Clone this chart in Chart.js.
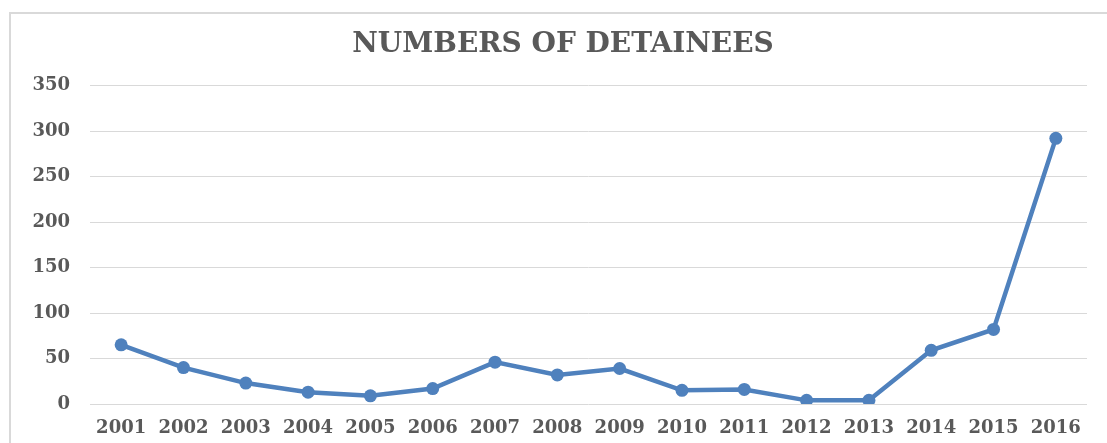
<!DOCTYPE html>
<html>
<head>
<meta charset="utf-8">
<script src="https://cdn.jsdelivr.net/npm/chart.js@4"></script>
<style>
  html, body { margin: 0; padding: 0; background: #fff; overflow: hidden; }
  #wrap { position: relative; width: 1107px; height: 443px; }
  #frame { position: absolute; left: 9px; top: 12px; width: 1200px; height: 600px; border: 2px solid #d9d9d9; box-sizing: border-box; }
  canvas { position: absolute; left: 0; top: 0; }
</style>
</head>
<body>
<div id="wrap">
  <div id="frame"></div>
  <canvas id="c" width="1107" height="443"></canvas>
</div>
<script>
const years = ['2001','2002','2003','2004','2005','2006','2007','2008','2009','2010','2011','2012','2013','2014','2015','2016'];
const detainees = [65, 40, 23, 13, 9, 17, 46, 32, 39, 15, 16, 4, 4, 59, 82, 292];
const yTicks = [0, 50, 100, 150, 200, 250, 300, 350];
const chartTitle = 'NUMBERS OF DETAINEES';

const tickFont = { family: '"DejaVu Serif", serif', size: 18, weight: 'bold' };

const shiftTitle = {
  id: 'shiftTitle',
  afterLayout(chart) {
    if (chart.titleBlock) { chart.titleBlock.left = 39; }
  }
};

new Chart(document.getElementById('c'), {
  type: 'line',
  data: {
    labels: years,
    datasets: [{
      data: detainees,
      borderColor: '#4f81bd',
      backgroundColor: '#4f81bd',
      borderWidth: 4.5,
      pointRadius: 6.5,
      pointHoverRadius: 6.5,
      pointBorderWidth: 0,
      tension: 0,
      fill: false
    }]
  },
  plugins: [shiftTitle],
  options: {
    responsive: false,
    animation: false,
    devicePixelRatio: 1,
    layout: { padding: { left: 0, right: 20, top: 0, bottom: 0 } },
    plugins: {
      legend: { display: false },
      tooltip: { enabled: false },
      title: {
        display: true,
        text: chartTitle,
        color: '#595959',
        font: { family: '"DejaVu Serif", serif', size: 28, weight: 'bold' },
        padding: { top: 28, bottom: 24 }
      }
    },
    scales: {
      x: {
        offset: true,
        grid: { display: false },
        border: { display: false },
        ticks: { color: '#595959', font: tickFont, maxRotation: 0, autoSkip: false, padding: 6 },
        afterFit: (s) => { s.height = 39; }
      },
      y: {
        min: 0,
        max: 350,
        afterBuildTicks: (s) => { s.ticks = yTicks.map(v => ({ value: v })); },
        grid: { color: '#d9d9d9', lineWidth: 1, drawTicks: false },
        border: { display: false },
        ticks: { color: '#595959', font: tickFont, padding: 20 },
        afterFit: (s) => { s.width = 90; }
      }
    }
  }
});
</script>
</body>
</html>
